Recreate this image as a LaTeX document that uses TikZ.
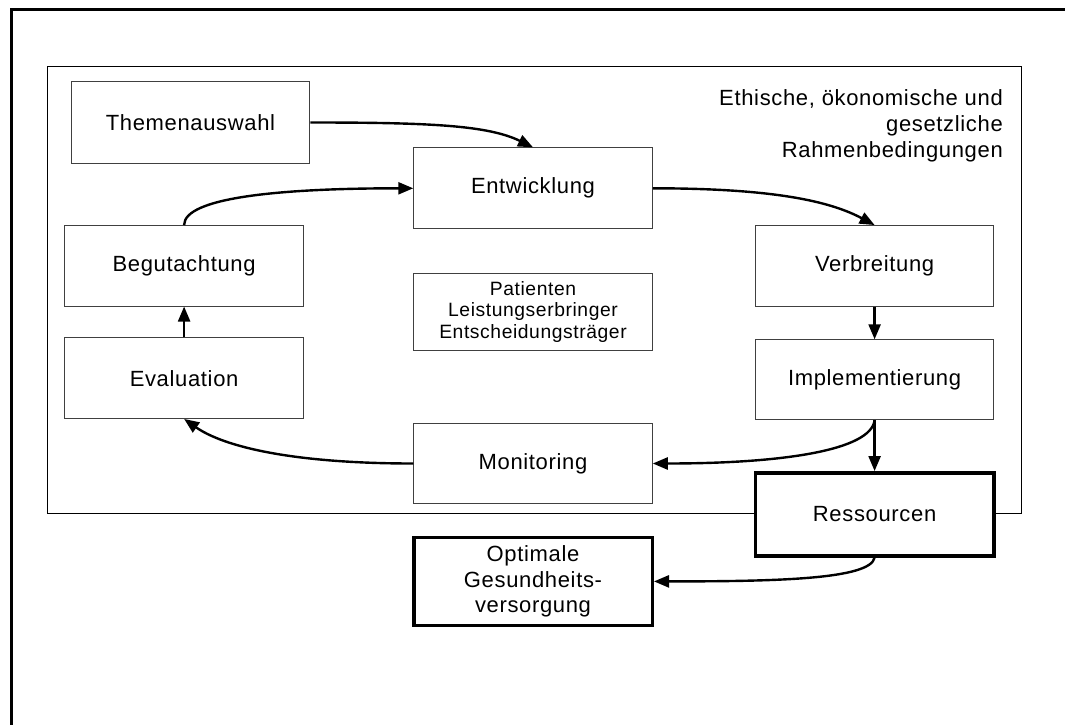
\documentclass[tikz,border=0pt]{standalone}
\usepackage{fontspec}
\setmainfont{Liberation Sans}[LetterSpace=3]
\usetikzlibrary{arrows.meta}
\newcommand{\mainsz}{\fontsize{22}{25.7}\selectfont}
\newcommand{\smallsz}{\fontsize{19.3}{21.5}\selectfont}
\begin{document}
\begin{tikzpicture}[x=1pt,y=-1pt,
  box/.style={draw=black!75, fill=white, line width=1pt, minimum width=238.5pt, minimum height=80.5pt, font=\mainsz, inner sep=0pt, align=center},
  thickbox/.style={box, draw=black, line width=3.5pt},
  arr/.style={line width=2.4pt, -{Triangle[length=15pt,width=12pt]}},
  frameline/.style={line width=3pt}]
\useasboundingbox (0,0) rectangle (1065,725);
\draw[frameline] (11.5,725) -- (11.5,10) -- (1065,10);
\draw[line width=1pt] (47.6,67) rectangle (1021,513.2);
\node[font=\mainsz, align=right, anchor=east, inner sep=0pt] (rahmen) at (1003,125.7) {Ethische, ökonomische und\\gesetzliche\\Rahmenbedingungen};
\node[box, minimum height=81.4pt] (them) at (190.5,122.5) {Themenauswahl};
\node[box, minimum height=81pt] (entw) at (533,188.3) {Entwicklung};
\node[box] (begu) at (184.1,265.8) {Begutachtung};
\node[box] (verb) at (874.6,265.8) {Verbreitung};
\node[box, minimum height=77.2pt, font=\smallsz] (pat) at (533,311.8) {Patienten\\Leistungserbringer\\Entscheidungsträger};
\node[box] (eval) at (184.1,378.2) {Evaluation};
\node[box, minimum height=80pt] (impl) at (874.6,379.8) {Implementierung};
\node[box, minimum height=80pt] (moni) at (533,463.5) {Monitoring};
\node[thickbox, minimum height=83pt] (ress) at (874.6,514.3) {Ressourcen};
\node[thickbox, minimum height=88pt] (opt) at (533,581.4) {Optimale\\Gesundheits-\\versorgung};
\draw[arr] (them.east) .. controls +(120,0) and +(-45,-22) .. (entw.north);
\draw[arr] (entw.east) .. controls +(120,0) and +(-45,-24) .. (verb.north);
\draw[arr] (begu.north) .. controls +(0,-28) and +(-130,0) .. (entw.west);
\draw[arr] (moni.west) .. controls +(-120,0) and +(40,28) .. (eval.south);
\draw[arr] (eval.north) -- (begu.south);
\draw[arr] (verb.south) -- (impl.north);
\draw[arr] (impl.south) .. controls +(-4,30) and +(130,0) .. (moni.east);
\draw[arr] (impl.south) -- (ress.north);
\draw[arr] (ress.south) .. controls +(-4,22) and +(120,0) .. (opt.east);
\end{tikzpicture}
\end{document}
